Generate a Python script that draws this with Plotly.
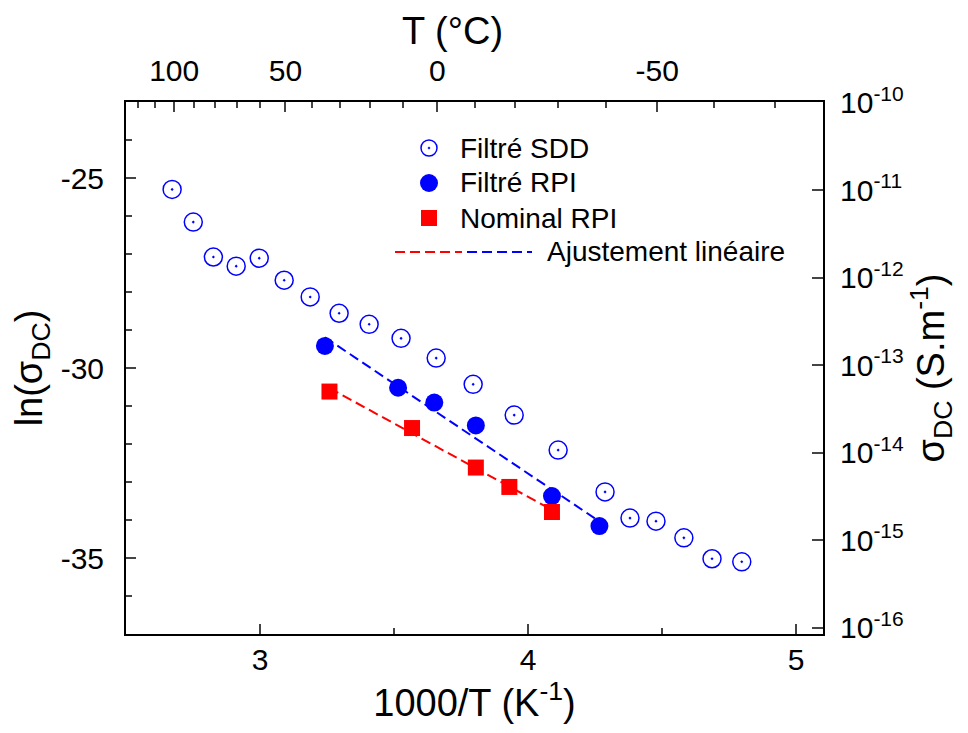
import numpy as np
import plotly.graph_objects as go

# ---------------- data ----------------
sdd_x = [2.672, 2.751, 2.826, 2.911, 2.997, 3.090, 3.187, 3.295, 3.407, 3.526,
         3.657, 3.795, 3.948, 4.112, 4.287, 4.380, 4.477, 4.581, 4.686, 4.797]
sdd_y = [-25.30, -26.16, -27.08, -27.32, -27.11, -27.69, -28.13, -28.56, -28.85, -29.22,
         -29.74, -30.43, -31.24, -32.16, -33.26, -33.95, -34.03, -34.47, -35.02, -35.10]

rpi_f_x = [3.242, 3.515, 3.650, 3.805, 4.089, 4.266]
rpi_f_y = [-29.42, -30.52, -30.91, -31.51, -33.37, -34.16]

rpi_n_x = [3.259, 3.567, 3.805, 3.930, 4.089]
rpi_n_y = [-30.62, -31.58, -32.62, -33.13, -33.79]

left_ticks = [-25, -30, -35]
top_tick_C = [100, 50, 0, -50]
top_minor_C = [120, 110, 90, 80, 70, 60, 40, 30, 20, 10, -10, -20, -30, -40, -60, -70]
right_tick_exp = [-16, -15, -14, -13, -12, -11, -10]

BLUE = "#0000FF"
RED = "#FF0000"
FONT = "Liberation Sans"

# linear fits (computed from the data)
def fit_line(xs, ys):
    p = np.polyfit(xs, ys, 1)
    xx = np.array([min(xs), max(xs)])
    return xx, np.polyval(p, xx)

fb_x, fb_y = fit_line(rpi_f_x, rpi_f_y)
fr_x, fr_y = fit_line(rpi_n_x, rpi_n_y)

fig = go.Figure()
fig.add_trace(go.Scatter(x=fr_x, y=fr_y, mode="lines",
                         line=dict(color=RED, width=2, dash="10px,5px"), showlegend=False))
fig.add_trace(go.Scatter(x=fb_x, y=fb_y, mode="lines",
                         line=dict(color=BLUE, width=2, dash="10px,5px"), showlegend=False))
fig.add_trace(go.Scatter(x=sdd_x, y=sdd_y, mode="markers", name="Filtré SDD",
                         marker=dict(symbol="circle-open-dot", size=18, color=BLUE,
                                     line=dict(width=1.5, color=BLUE)), showlegend=False))
fig.add_trace(go.Scatter(x=rpi_f_x, y=rpi_f_y, mode="markers", name="Filtré RPI",
                         marker=dict(symbol="circle", size=18, color=BLUE), showlegend=False))
fig.add_trace(go.Scatter(x=rpi_n_x, y=rpi_n_y, mode="markers", name="Nominal RPI",
                         marker=dict(symbol="square", size=16, color=RED), showlegend=False))
# dummy trace to activate the secondary (top / right) axes
fig.add_trace(go.Scatter(x=[None], y=[None], xaxis="x2", yaxis="y2",
                         showlegend=False, hoverinfo="skip"))

XR = [2.5, 5.1]
YR = [-37, -23]
LN10 = np.log(10)

tick_font = dict(family=FONT, size=30, color="black")
title_font = dict(family=FONT, size=38, color="black")

# page body has an 8px margin: figure coords = view coords - 8
fig.update_layout(
    width=952, height=717, autosize=False,
    margin=dict(l=118, r=137, t=94, b=91),
    paper_bgcolor="white", plot_bgcolor="white",
    font=dict(family=FONT, color="black"),
    showlegend=False,
    xaxis=dict(range=XR, tickvals=[3, 4, 5], ticks="inside", ticklen=10, tickwidth=1.5,
               minor=dict(tickvals=[2.5, 3.5, 4.5], ticks="inside", ticklen=6, tickwidth=1.5),
               showline=True, linewidth=2, linecolor="black", showgrid=False, zeroline=False,
               tickfont=tick_font, ticklabelstandoff=-2,
               title=dict(text="1000/T (K<sup>-1</sup>)", font=title_font, standoff=0)),
    yaxis=dict(range=YR, tickvals=left_ticks, ticktext=[str(v) for v in left_ticks],
               ticks="inside", ticklen=10, tickwidth=1.5,
               minor=dict(dtick=1, ticks="inside", ticklen=6, tickwidth=1.5),
               showline=True, linewidth=2, linecolor="black", showgrid=False, zeroline=False,
               tickfont=tick_font, ticklabelstandoff=14,
               title=dict(text="ln(σ<sub>DC</sub>)", font=title_font, standoff=12)),
    xaxis2=dict(range=XR, overlaying="x", side="top", anchor="y2",
                tickvals=[1000.0 / (t + 273.15) for t in top_tick_C],
                ticktext=[str(t) for t in top_tick_C],
                ticks="inside", ticklen=10, tickwidth=1.5,
                minor=dict(tickvals=[1000.0 / (t + 273.15) for t in top_minor_C],
                           ticks="inside", ticklen=6, tickwidth=1.5),
                showline=True, linewidth=2, linecolor="black", showgrid=False, zeroline=False,
                tickfont=tick_font, ticklabelstandoff=7),
    yaxis2=dict(range=[YR[0] / LN10, YR[1] / LN10], overlaying="y", side="right", anchor="x2",
                tickvals=right_tick_exp,
                ticktext=["10<sup>%d</sup>" % e for e in right_tick_exp],
                ticks="inside", ticklen=11, tickwidth=1.5,
                showline=True, linewidth=2, linecolor="black", showgrid=False, zeroline=False,
                tickfont=tick_font, ticklabelstandoff=9,
                title=dict(text="σ<sub>DC</sub> (S.m<sup>-1</sup>)", font=title_font, standoff=13)),
)

# top axis title
fig.add_annotation(text="T (°C)", xref="paper", yref="paper", x=(452 - 126) / 697, y=(634 - 31) / 532,
                   xanchor="center", yanchor="middle", showarrow=False, font=title_font)

# ---------------- manual legend ----------------
def px(x):
    return (x - 126) / 697

def py(y):
    return (634 - y) / 532

leg_font = dict(family=FONT, size=28, color="black")
mx = px(429)
rows = [148, 183, 218, 252]

# open circle with dot
fig.add_shape(type="circle", xref="paper", yref="paper", xsizemode="pixel", ysizemode="pixel",
              xanchor=mx, yanchor=py(rows[0]), x0=-8, x1=8, y0=-8, y1=8,
              line=dict(color=BLUE, width=1.5), fillcolor="rgba(0,0,0,0)")
fig.add_shape(type="circle", xref="paper", yref="paper", xsizemode="pixel", ysizemode="pixel",
              xanchor=mx, yanchor=py(rows[0]), x0=-1, x1=1, y0=-1, y1=1,
              line=dict(color=BLUE, width=0.5), fillcolor=BLUE)
# filled circle
fig.add_shape(type="circle", xref="paper", yref="paper", xsizemode="pixel", ysizemode="pixel",
              xanchor=mx, yanchor=py(rows[1]), x0=-9, x1=9, y0=-9, y1=9,
              line=dict(color=BLUE, width=0), fillcolor=BLUE)
# square
fig.add_shape(type="rect", xref="paper", yref="paper", xsizemode="pixel", ysizemode="pixel",
              xanchor=mx, yanchor=py(rows[2]), x0=-8, x1=8, y0=-8, y1=8,
              line=dict(color=RED, width=0), fillcolor=RED)
# two-coloured dashed line
fig.add_shape(type="line", xref="paper", yref="paper", x0=px(395), x1=px(462), y0=py(rows[3]), y1=py(rows[3]),
              line=dict(color=RED, width=2, dash="10px,5px"))
fig.add_shape(type="line", xref="paper", yref="paper", x0=px(467), x1=px(532), y0=py(rows[3]), y1=py(rows[3]),
              line=dict(color=BLUE, width=2, dash="10px,5px"))

for label, row, tx in [("Filtré SDD", rows[0], 458), ("Filtré RPI", rows[1], 458),
                       ("Nominal RPI", rows[2], 458), ("Ajustement linéaire", rows[3], 545)]:
    fig.add_annotation(text=label, xref="paper", yref="paper", x=px(tx), y=py(row),
                       xanchor="left", yanchor="middle", showarrow=False, font=leg_font)

fig.write_html("out.html")
